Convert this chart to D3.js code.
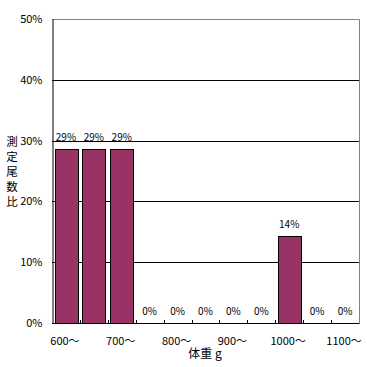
<!DOCTYPE html>
<html><head><meta charset="utf-8">
<script src="https://cdn.jsdelivr.net/npm/d3@7"></script>
<style>body{margin:0;background:#fff;}svg{display:block;}</style>
</head><body>
<script>
const categories = ["600～","650～","700～","750～","800～","850～","900～","950～","1000～","1050～","1100～"];
const values = [0.2857,0.2857,0.2857,0,0,0,0,0,0.1429,0,0];
const valueLabels = ["29%","29%","29%","0%","0%","0%","0%","0%","14%","0%","0%"];
const xTickLabels = ["600～","700～","800～","900～","1000～","1100～"];
const yTicks = [0,0.1,0.2,0.3,0.4,0.5];
const yTitle = "測定尾数比";
const xTitle = "体重 g";

(function(){
const W=367,H=367, pL=52, pR=359, pT=19, pB=323;
const font = "'Noto Sans CJK JP', 'DejaVu Sans', sans-serif";
const svg = d3.select("body").append("svg").attr("width",W).attr("height",H);

const x = d3.scaleBand().domain(categories).range([pL,pR]).paddingInner(0.18).paddingOuter(0.09);
const xb = d3.scaleBand().domain(categories).range([pL,pR]);
const y = d3.scaleLinear().domain([0,0.5]).range([pB,pT]);

// gridlines
svg.append("g").selectAll("line").data(yTicks.filter(d=>d>0&&d<0.5)).join("line")
  .attr("x1",pL).attr("x2",pR).attr("y1",d=>Math.round(y(d))+0.5).attr("y2",d=>Math.round(y(d))+0.5)
  .attr("stroke","#000").attr("stroke-width",1);
// plot border top/right gray
svg.append("path").attr("d",`M${pL},${pT+0.5}H${pR+0.5}V${pB}`).attr("fill","none").attr("stroke","#808080");

// bars
svg.append("g").selectAll("rect").data(categories.map((c,i)=>({c,v:values[i]})).filter(d=>d.v>0)).join("rect")
  .attr("x",d=>Math.round(x(d.c))+0.5).attr("width",Math.round(x.bandwidth()))
  .attr("y",d=>Math.round(y(d.v))+0.5).attr("height",d=>pB-Math.round(y(d.v)))
  .attr("fill","#993366").attr("stroke","#000");

// value labels
svg.append("g").selectAll("text").data(categories.map((c,i)=>({c,v:values[i],t:valueLabels[i]}))).join("text")
  .attr("x",d=>x(d.c)+x.bandwidth()/2).attr("y",d=>y(d.v)-8)
  .attr("text-anchor","middle").attr("font-family",font).attr("font-size",10).text(d=>d.t);

// y axis
const yAxis = svg.append("g").attr("transform",`translate(${pL+0.5},0)`)
  .call(d3.axisLeft(y).tickValues(yTicks).tickFormat(d3.format(".0%")).tickSize(0).tickPadding(10));
yAxis.select(".domain").attr("stroke","#000");
yAxis.selectAll("text").attr("font-family",font).attr("font-size",11).attr("fill","#000");

// x axis baseline and ticks (inside, upward)
svg.append("line").attr("x1",pL).attr("x2",pR+0.5).attr("y1",pB+0.5).attr("y2",pB+0.5).attr("stroke","#000");
svg.append("g").selectAll("line").data(categories.slice(1)).join("line")
  .attr("x1",d=>Math.round(xb(d))+0.5).attr("x2",d=>Math.round(xb(d))+0.5)
  .attr("y1",pB-3).attr("y2",pB).attr("stroke","#000");

// x tick labels (every other category)
svg.append("g").selectAll("text").data(xTickLabels).join("text")
  .attr("x",d=>xb(d)+xb.bandwidth()/2-1).attr("y",345)
  .attr("text-anchor","middle").attr("font-family",font).attr("font-size",11).text(d=>d);

// titles
svg.append("text").attr("x",205).attr("y",358).attr("text-anchor","middle")
  .attr("font-family",font).attr("font-size",12).text(xTitle);
svg.append("text").attr("x",12).attr("y",136)
  .style("writing-mode","vertical-rl").style("letter-spacing","3.5px")
  .attr("font-family",font).attr("font-size",11.5).text(yTitle);
})();
</script>
</body></html>
